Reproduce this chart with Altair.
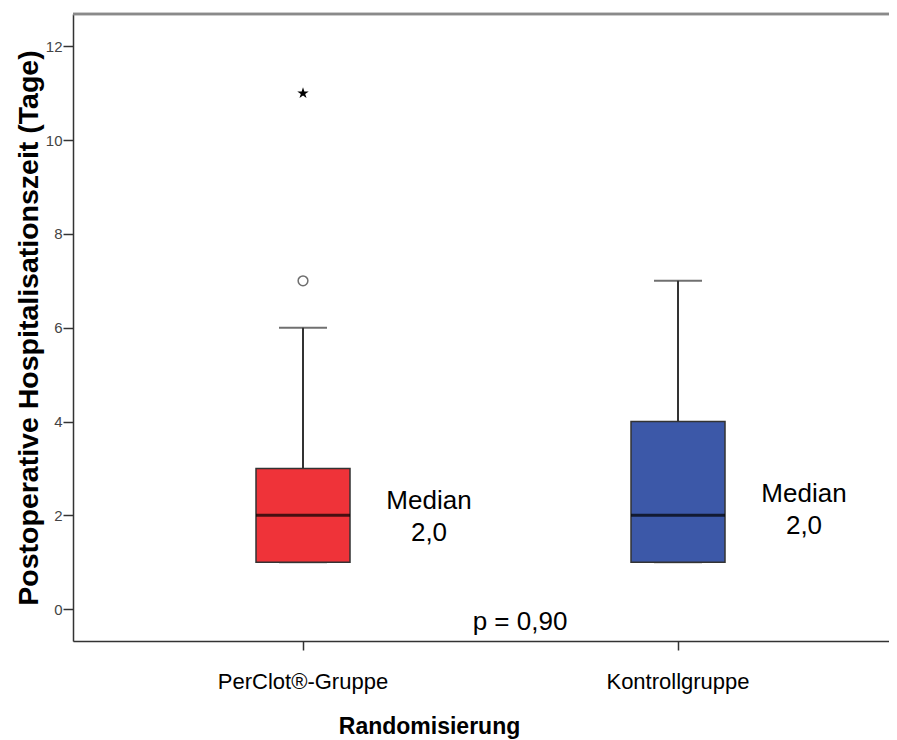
import altair as alt
import pandas as pd

# ---- data ----
groups = ["PerClot®-Gruppe", "Kontrollgruppe"]
q1 = [1, 1]
medians = [2, 2]
q3 = [3, 4]
whisker_low = [1, 1]
whisker_high = [6, 7]
box_colors = ["#EF3339", "#3C58A8"]

mild_outlier_group = ["PerClot®-Gruppe"]
mild_outlier_value = [7]
extreme_outlier_group = ["PerClot®-Gruppe"]
extreme_outlier_value = [11]

median_label_y = [2.3, 2.45]
median_labels = ["Median\n2,0", "Median\n2,0"]
p_label = ["p = 0,90"]
p_label_y = [-0.27]

y_ticks = [0, 2, 4, 6, 8, 10, 12]
y_domain = [-0.68, 12.69]

W, H = 816, 627

box_df = pd.DataFrame({
    "group": groups, "q1": q1, "median": medians, "q3": q3,
    "low": whisker_low, "high": whisker_high,
})
mild_df = pd.DataFrame({"group": mild_outlier_group, "value": mild_outlier_value})
extreme_df = pd.DataFrame({"group": extreme_outlier_group, "value": extreme_outlier_value})
label_df = pd.DataFrame({"group": groups, "y": median_label_y, "text": median_labels})
p_df = pd.DataFrame({"group": [groups[0]], "y": p_label_y, "text": p_label})

x_enc = alt.X(
    "group:N",
    sort=groups,
    scale=alt.Scale(domain=groups, paddingInner=0, paddingOuter=0.088, align=0.644),
    axis=alt.Axis(
        labelAngle=0,
        labelFont="Liberation Sans",
        labelFontSize=22,
        labelColor="black",
        labelPadding=21,
        tickSize=9,
        tickColor="#333333",
        tickWidth=1.5,
        domainColor="#333333",
        domainWidth=1.5,
        grid=False,
        title="Randomisierung",
        titleFont="Liberation Sans",
        titleFontSize=23,
        titleFontWeight="bold",
        titleColor="black",
        titleX=356,
        titleY=92,
        titleAlign="center",
        titleBaseline="alphabetic",
    ),
)

y_scale = alt.Scale(domain=y_domain, nice=False, zero=False)
y_axis = alt.Axis(
    values=y_ticks,
    labelFont="Liberation Sans",
    labelFontSize=15,
    labelColor="#444444",
    labelPadding=1,
    tickSize=10,
    tickColor="#333333",
    tickWidth=1.5,
    domainColor="#333333",
    domainWidth=1.5,
    grid=False,
    title="Postoperative Hospitalisationszeit (Tage)",
    titleFont="Liberation Sans",
    titleFontSize=28.5,
    titleFontWeight="bold",
    titleColor="black",
    titlePadding=2,
)

base = alt.Chart(box_df)

whiskers = base.mark_rule(color="#333333", strokeWidth=2).encode(
    x=x_enc,
    y=alt.Y("low:Q", scale=y_scale, axis=y_axis),
    y2="high:Q",
)
cap_hi = base.mark_tick(size=48, thickness=2, color="#333333").encode(
    x=alt.X("group:N", sort=groups), y=alt.Y("high:Q")
)
cap_lo = base.mark_tick(size=48, thickness=2, color="#333333").encode(
    x=alt.X("group:N", sort=groups), y=alt.Y("low:Q")
)
boxes = base.mark_bar(size=94, stroke="#333333", strokeWidth=1.5).encode(
    x=alt.X("group:N", sort=groups),
    y=alt.Y("q1:Q"),
    y2="q3:Q",
    color=alt.Color("group:N", scale=alt.Scale(domain=groups, range=box_colors), legend=None),
)
median_ticks = base.mark_tick(size=94, thickness=3, color="black").encode(
    x=alt.X("group:N", sort=groups), y=alt.Y("median:Q")
)

mild = alt.Chart(mild_df).mark_point(
    shape="circle", filled=False, size=95, color="#333333", strokeWidth=1.5
).encode(x=alt.X("group:N", sort=groups), y=alt.Y("value:Q"))

star_path = ("M0,-1L0.2245,-0.309L0.9511,-0.309L0.3633,0.118L0.5878,0.809L0,0.382"
             "L-0.5878,0.809L-0.3633,0.118L-0.9511,-0.309L-0.2245,-0.309Z")
extreme = alt.Chart(extreme_df).mark_point(
    shape=star_path, filled=True, size=144, color="black", opacity=1
).encode(x=alt.X("group:N", sort=groups), y=alt.Y("value:Q"))

labels = alt.Chart(label_df).mark_text(
    dx=126, font="Liberation Sans", fontSize=26, lineBreak="\n", lineHeight=32,
    baseline="middle", align="center", color="black",
).encode(x=alt.X("group:N", sort=groups), y=alt.Y("y:Q"), text="text:N")

p_text = alt.Chart(p_df).mark_text(
    dx=217, font="Liberation Sans", fontSize=26, baseline="middle", align="center", color="black",
).encode(x=alt.X("group:N", sort=groups), y=alt.Y("y:Q"), text="text:N")

top_border = alt.Chart(box_df).mark_rule(color="#8a8a8a", strokeWidth=2.5).encode(
    x=alt.value(0), x2=alt.value(W), y=alt.value(0)
)

chart = alt.layer(
    whiskers, cap_hi, cap_lo, boxes, median_ticks, mild, extreme, labels, p_text, top_border
).properties(
    width=W,
    height=H,
    autosize=alt.AutoSizeParams(type="none"),
    padding={"left": 65, "top": 6, "right": 0, "bottom": 99},
).configure_view(stroke=None).configure(background="white")

chart.save("out.html", embed_options={"renderer": "svg", "actions": False})
